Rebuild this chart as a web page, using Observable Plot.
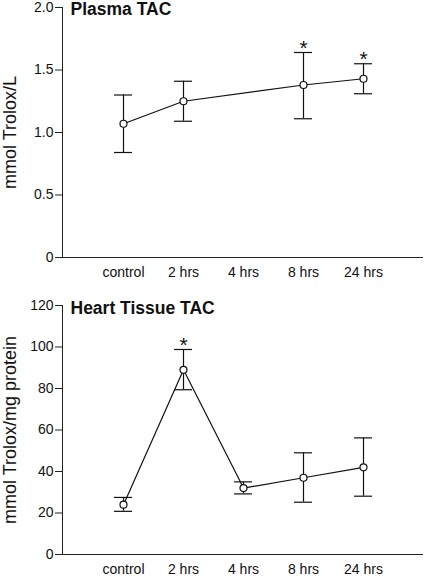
<!DOCTYPE html>
<html>
<head>
<meta charset="utf-8">
<script src="https://cdn.jsdelivr.net/npm/d3@7"></script>
<script src="https://cdn.jsdelivr.net/npm/@observablehq/plot@0.6"></script>
<style>
  body { margin: 0; background: #fff; }
  #root { width: 424px; }
  #root svg { display: block; font-family: "Liberation Sans", Arial, sans-serif; }
</style>
</head>
<body>
<div id="root"></div>
<script>
// Categories (x axis)
const categories = ["control", "2 hrs", "4 hrs", "8 hrs", "24 hrs"];

// Plasma TAC (mmol Trolox/L) — no 4 hrs measurement
const plasmaTimes = ["control", "2 hrs", "8 hrs", "24 hrs"];
const plasmaMean  = [1.07, 1.25, 1.38, 1.43];
const plasmaLow   = [0.84, 1.09, 1.11, 1.31];
const plasmaHigh  = [1.30, 1.41, 1.64, 1.55];
const plasmaSig   = [false, false, true, true];
const plasmaTicks = [0, 0.5, 1.0, 1.5, 2.0];

// Heart Tissue TAC (mmol Trolox/mg protein)
const heartTimes = ["control", "2 hrs", "4 hrs", "8 hrs", "24 hrs"];
const heartMean  = [24, 89, 32, 37, 42];
const heartLow   = [20.8, 79.4, 29.2, 25.2, 28.1];
const heartHigh  = [27.5, 98.8, 35, 49, 56.2];
const heartSig   = [false, true, false, false, false];
const heartTicks = [0, 20, 40, 60, 80, 100, 120];

function build(times, mean, low, high, sig) {
  return times.map((t, i) => ({t, mean: mean[i], low: low[i], high: high[i], sig: sig[i]}));
}

function panel({data, title, ylabel, yDomain, ticks, fmt, height, marginTop, marginBottom, titleBaseline}) {
  return Plot.plot({
    width: 424,
    height,
    marginLeft: 62,
    marginRight: 1,
    marginTop,
    marginBottom,
    style: {fontFamily: '"Liberation Sans", Arial, sans-serif', color: "#111", background: "#fff", overflow: "visible"},
    x: {type: "band", domain: categories, paddingInner: 0.7, paddingOuter: 0.85},
    y: {domain: yDomain},
    marks: [
      Plot.frame({anchor: "left", stroke: "#222"}),
      Plot.ruleY([yDomain[0]], {stroke: "#222"}),
      Plot.axisY({ticks, tickFormat: fmt, tickSize: 7, tickPadding: 2, fontSize: 14, label: null, stroke: "#222"}),
      Plot.axisX({tickSize: 0, tickPadding: 10, fontSize: 14, label: null}),
      Plot.text([ylabel], {frameAnchor: "left", textAnchor: "middle", lineAnchor: "middle", dx: -52, rotate: -90, fontSize: 18, fill: "#111"}),
      Plot.text([title], {frameAnchor: "top-left", textAnchor: "start", lineAnchor: "middle", dx: 8, dy: titleBaseline - 0.32 * 17 - marginTop, fontSize: 17.5, fontWeight: "bold", fill: "#111"}),
      Plot.ruleX(data, {x: "t", y1: "low", y2: "high", stroke: "#111", strokeWidth: 1.2}),
      Plot.tickY(data, {x: "t", y: "low", stroke: "#111", strokeWidth: 1.2}),
      Plot.tickY(data, {x: "t", y: "high", stroke: "#111", strokeWidth: 1.2}),
      Plot.line(data, {x: "t", y: "mean", stroke: "#111", strokeWidth: 1.2}),
      Plot.dot(data, {x: "t", y: "mean", r: 3.5, fill: "#fff", stroke: "#111", strokeWidth: 1.2}),
      Plot.text(data.filter(d => d.sig), {x: "t", y: "high", text: () => "*", fontSize: 21, dy: -4, fill: "#111"})
    ]
  });
}

const root = document.getElementById("root");
root.append(panel({
  data: build(plasmaTimes, plasmaMean, plasmaLow, plasmaHigh, plasmaSig),
  title: "Plasma TAC",
  ylabel: "mmol Trolox/L",
  yDomain: [0, 2],
  ticks: plasmaTicks,
  fmt: d => d === 0 ? "0" : d.toFixed(1),
  height: 290, marginTop: 7, marginBottom: 33, titleBaseline: 14
}));
root.append(panel({
  data: build(heartTimes, heartMean, heartLow, heartHigh, heartSig),
  title: "Heart Tissue TAC",
  ylabel: "mmol Trolox/mg protein",
  yDomain: [0, 120],
  ticks: heartTicks,
  fmt: d => String(d),
  height: 286, marginTop: 15, marginBottom: 22, titleBaseline: 23
}));
</script>
</body>
</html>
